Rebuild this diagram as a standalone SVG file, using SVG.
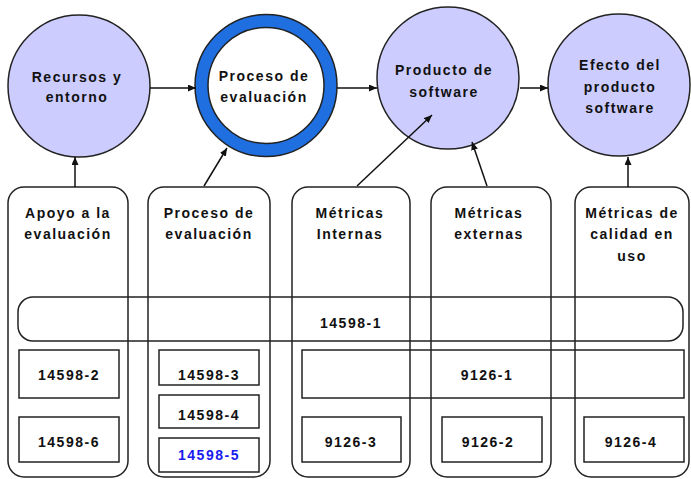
<svg xmlns="http://www.w3.org/2000/svg" width="691" height="479" viewBox="0 0 691 479">
<defs>
<marker id="ah" markerWidth="9" markerHeight="8" refX="8" refY="3.5" orient="auto" markerUnits="userSpaceOnUse">
<path d="M0,0 L8,3.5 L0,7 z" fill="#111"/>
</marker>
<style>
.t{font-family:"Liberation Sans",Arial,sans-serif;font-weight:bold;font-size:14px;letter-spacing:1.5px;text-anchor:middle;fill:#111}
.b{fill:none;stroke:#222;stroke-width:1.5}
.bw{fill:#fff;stroke:#222;stroke-width:1.5}
.c{fill:#ccccff;stroke:#222;stroke-width:1.5}
.ln{stroke:#111;stroke-width:1.5;fill:none;marker-end:url(#ah)}
</style>
</defs>
<rect width="691" height="479" fill="#fff"/>

<g id="col1"><rect class="b" x="8" y="187" width="120" height="290" rx="16"/>
<text class="t" x="68" y="218">Apoyo a la</text><text class="t" x="68" y="239">evaluación</text></g>
<g id="col2"><rect class="b" x="148" y="187" width="122" height="290" rx="16"/>
<text class="t" x="209" y="218">Proceso de</text><text class="t" x="209" y="239">evaluación</text></g>
<g id="col3"><rect class="b" x="292" y="187" width="118" height="290" rx="16"/>
<text class="t" x="350" y="218">Métricas</text><text class="t" x="350" y="239">Internas</text></g>
<g id="col4"><rect class="b" x="431" y="187" width="120" height="290" rx="16"/>
<text class="t" x="489" y="218">Métricas</text><text class="t" x="489" y="239">externas</text></g>
<g id="col5"><rect class="b" x="575" y="187" width="114" height="290" rx="16"/>
<text class="t" x="632" y="218">Métricas de</text><text class="t" x="632" y="239">calidad en</text><text class="t" x="632" y="261">uso</text></g>

<g id="b14598-1"><rect class="b" x="18" y="297" width="665" height="44" rx="15"/>
<text class="t" x="351" y="328">14598-1</text></g>
<g id="b9126-1"><rect class="b" x="302" y="350" width="382" height="48"/>
<text class="t" x="487" y="380">9126-1</text></g>
<g id="b14598-2"><rect class="bw" x="19" y="350" width="100" height="48"/>
<text class="t" x="69" y="380">14598-2</text></g>
<g id="b14598-6"><rect class="bw" x="19" y="417" width="100" height="45"/>
<text class="t" x="69" y="447">14598-6</text></g>
<g id="b14598-3"><rect class="bw" x="159" y="350" width="100" height="35"/>
<text class="t" x="209" y="380">14598-3</text></g>
<g id="b14598-4"><rect class="bw" x="159" y="395" width="100" height="33"/>
<text class="t" x="209" y="420">14598-4</text></g>
<g id="b14598-5"><rect class="bw" x="159" y="438" width="100" height="34"/>
<text class="t" x="209" y="460" style="fill:#1a1aee">14598-5</text></g>
<g id="b9126-3"><rect class="bw" x="302" y="417" width="99" height="45"/>
<text class="t" x="351" y="447">9126-3</text></g>
<g id="b9126-2"><rect class="bw" x="442" y="417" width="100" height="45"/>
<text class="t" x="488" y="447">9126-2</text></g>
<g id="b9126-4"><rect class="bw" x="584" y="417" width="100" height="45"/>
<text class="t" x="631" y="447">9126-4</text></g>

<g id="c1"><circle class="c" cx="79" cy="86" r="71"/>
<text class="t" x="77" y="82">Recursos y</text><text class="t" x="77" y="102">entorno</text></g>
<g id="c2"><circle cx="266" cy="85.5" r="64.5" fill="#fff" stroke="#1f6fe0" stroke-width="13"/>
<circle cx="266" cy="85.5" r="71" fill="none" stroke="#222" stroke-width="1.5"/>
<circle cx="266" cy="85.5" r="58" fill="none" stroke="#222" stroke-width="1.5"/>
<text class="t" x="264" y="81">Proceso de</text><text class="t" x="264" y="102">evaluación</text></g>
<g id="c3"><circle class="c" cx="448" cy="78" r="71"/>
<text class="t" x="444" y="75">Producto de</text><text class="t" x="444" y="97">software</text></g>
<g id="c4"><circle class="c" cx="619" cy="85" r="71"/>
<text class="t" x="620" y="70">Efecto del</text><text class="t" x="620" y="92">producto</text><text class="t" x="620" y="113">software</text></g>

<g id="connectors">
<line class="ln" x1="150" y1="88" x2="196" y2="88"/>
<line class="ln" x1="337" y1="88" x2="377" y2="88"/>
<line class="ln" x1="520" y1="88" x2="548" y2="88"/>
<line class="ln" x1="75" y1="187" x2="75" y2="157"/>
<line class="ln" x1="204" y1="186" x2="227" y2="148"/>
<line class="ln" x1="357" y1="186" x2="432" y2="115"/>
<line class="ln" x1="487" y1="186" x2="472" y2="142"/>
<line class="ln" x1="628" y1="187" x2="628" y2="157"/>
</g>
</svg>
